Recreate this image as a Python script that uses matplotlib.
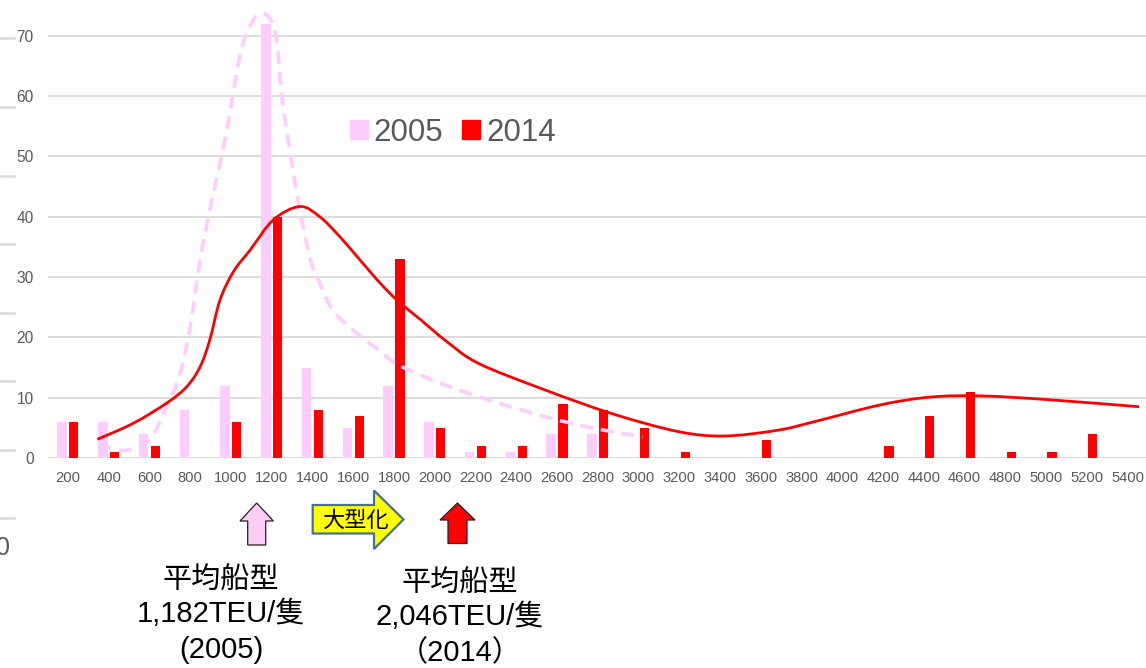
import numpy as np
import matplotlib.pyplot as plt
from matplotlib.path import Path
from matplotlib.patches import PathPatch, Patch, Polygon
from matplotlib.lines import Line2D
from matplotlib.transforms import Affine2D

plt.rcParams['font.family'] = ['Liberation Sans', 'Noto Sans CJK JP', 'DejaVu Sans']

# 船型区分 (TEU)
sizes = [200, 400, 600, 800, 1000, 1200, 1400, 1600, 1800, 2000, 2200, 2400, 2600,
         2800, 3000, 3200, 3400, 3600, 3800, 4000, 4200, 4400, 4600, 4800, 5000,
         5200, 5400]
ships_2005 = [6, 6, 4, 8, 12, 72, 15, 5, 12, 6, 1, 1, 4, 4, 0, 0, 0, 0, 0, 0, 0, 0,
              0, 0, 0, 0, 0]
ships_2014 = [6, 1, 2, 0, 6, 40, 8, 7, 33, 5, 2, 2, 9, 8, 5, 1, 0, 3, 0, 0, 2, 7,
              11, 1, 1, 4, 0]

# 近似曲線 (区分位置, 隻数)
curve_2005_x = [0.79, 1.03, 1.44, 2.0, 2.42, 2.75, 3.0, 3.24, 3.48, 3.88, 4.24,
                4.53, 4.75, 4.98, 5.13, 5.26, 5.6, 5.93, 6.18, 6.5, 7.08, 7.57,
                8.12, 9.26, 10.48, 11.7, 12.93, 14.1]
curve_2005_y = [2.8, 1.7, 1.3, 3.0, 8.5, 14.0, 21.8, 32.8, 41.1, 53.8, 67.4,
                72.4, 73.7, 72.6, 68.8, 59.4, 44.4, 33.4, 29.0, 24.5, 20.7, 18.2,
                15.4, 12.1, 9.3, 6.85, 4.9, 3.5]
curve_2014_x = [0.72, 1.6, 2.42, 2.91, 3.24, 3.48, 3.73, 4.06, 4.47, 5.04, 5.69,
                6.18, 6.67, 7.17, 7.66, 8.07, 8.64, 9.26, 10.07, 11.7, 13.33,
                14.96, 16.1, 17.41, 18.3, 19.93, 21.16, 22.38, 24.0, 26.28]
curve_2014_y = [3.1, 5.75, 9.1, 11.8, 15.1, 19.6, 26.2, 30.9, 34.5, 39.5, 41.7,
                40.0, 36.7, 32.8, 29.0, 26.2, 23.0, 19.5, 15.7, 11.3, 7.4, 4.4,
                3.65, 4.6, 6.0, 8.8, 10.1, 10.3, 9.7, 8.5]

PINK = '#FFCCFF'
RED = '#FF0000'
GRID = '#D9D9D9'
LABEL = '#595959'


def smooth_path(xs, ys):
    pts = np.column_stack([xs, ys])
    n = len(pts)
    verts = [pts[0]]
    codes = [Path.MOVETO]
    for k in range(n - 1):
        p0 = pts[k - 1] if k > 0 else pts[k]
        p1 = pts[k]
        p2 = pts[k + 1]
        p3 = pts[k + 2] if k + 2 < n else pts[k + 1]
        verts += [p1 + (p2 - p0) / 6, p2 - (p3 - p1) / 6, p2]
        codes += [Path.CURVE4] * 3
    return Path(verts, codes)


W, H = 1146, 668
fig = plt.figure(figsize=(W / 100, H / 100), dpi=100)
ax = fig.add_axes([47.6 / W, 210 / H, (1148 - 47.6) / W, 458 / H])

x = np.arange(len(sizes))
ax.bar(x - 0.145, ships_2005, width=0.235, color=PINK, zorder=2)
ax.bar(x + 0.145, ships_2014, width=0.225, color=RED, zorder=2)

ax.add_patch(PathPatch(smooth_path(curve_2005_x, curve_2005_y), fill=False,
                       edgecolor=PINK, lw=2.6, linestyle=(0, (3.6, 2.2)), zorder=3))
ax.add_patch(PathPatch(smooth_path(curve_2014_x, curve_2014_y), fill=False,
                       edgecolor=RED, lw=2.0, zorder=4))

ax.set_xlim(-0.5, len(sizes) - 0.5)
ax.set_ylim(0, 75.95)
ax.set_xticks(x)
ax.set_xticklabels([str(s) for s in sizes])
ax.set_yticks(range(0, 71, 10))
ax.tick_params(axis='x', length=0, pad=9, labelsize=10.6, labelcolor=LABEL)
ax.tick_params(axis='y', length=0, pad=10, labelsize=11.2, labelcolor=LABEL)
ax.grid(axis='y', color=GRID, lw=1.3, zorder=0)
ax.set_axisbelow(True)
ax.axhline(0, color=GRID, lw=1.8, zorder=1)
for s in ax.spines.values():
    s.set_visible(False)

handles = [Patch(color=PINK, label='2005'), Patch(color=RED, label='2014')]
fig.legend(handles=handles, loc='center left', bbox_to_anchor=(350 / W, 1 - 133 / H),
           ncol=2, frameon=False, fontsize=22.5, labelcolor=LABEL, handlelength=0.56,
           handleheight=0.56, handletextpad=0.2, columnspacing=0.6, borderpad=0,
           borderaxespad=0)

# 画素座標 (左上原点)
px = Affine2D().scale(1 / W, -1 / H).translate(0, 1) + fig.transFigure

# 左側の目盛線
for yy in [38, 107, 176, 244, 313, 381, 450, 518]:
    fig.add_artist(Line2D([0, 14], [yy, yy], transform=px, color=GRID, lw=1.8))
fig.text(-4, 548, '0', transform=px, fontsize=18, color=LABEL, ha='left', va='center')


def up_arrow(cx, tip, base, bottom, head_half, shaft_half, face):
    pts = [(cx, tip), (cx + head_half, base), (cx + shaft_half, base),
           (cx + shaft_half, bottom), (cx - shaft_half, bottom),
           (cx - shaft_half, base), (cx - head_half, base)]
    fig.add_artist(Polygon(pts, closed=True, transform=px, facecolor=face,
                           edgecolor='#222222', lw=0.9))


up_arrow(256.7, 503, 521, 545, 16.7, 9, '#FFCCF5')
up_arrow(457.5, 503, 520, 543.5, 17.5, 9.5, RED)

# 大型化の矢印
right_pts = [(312.7, 505), (374, 505), (374, 490.5), (403.5, 519.5), (374, 549),
             (374, 533.5), (312.7, 533.5)]
fig.add_artist(Polygon(right_pts, closed=True, transform=px, facecolor='#FFFF00',
                       edgecolor='#41719C', lw=1.6))
fig.text(355, 521, '大型化', transform=px, fontsize=16, color='black',
         ha='center', va='center')

block_2005 = ['平均船型', '1,182TEU/隻', '(2005)']
block_2014 = ['平均船型', '2,046TEU/隻', '（2014）']
for line, yy in zip(block_2005, [580, 614, 650]):
    fig.text(221, yy, line, transform=px, fontsize=21, color='black',
             ha='center', va='center')
for line, yy in zip(block_2014, [583, 617, 653]):
    fig.text(460, yy, line, transform=px, fontsize=21, color='black',
             ha='center', va='center')

fig.savefig('out.png', dpi=100)
